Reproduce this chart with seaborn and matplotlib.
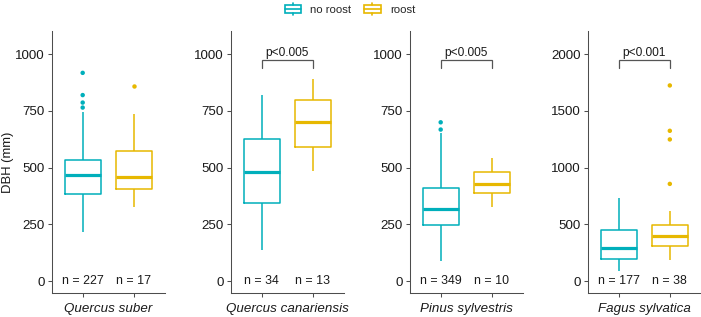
import matplotlib
matplotlib.use("Agg")
import matplotlib.pyplot as plt
from matplotlib.legend_handler import HandlerBase
from matplotlib.patches import Rectangle, Patch
from matplotlib.lines import Line2D
import seaborn as sns
import pandas as pd

# ---------------- data ----------------
species = ["Quercus suber", "Quercus canariensis", "Pinus sylvestris", "Fagus sylvatica"]
groups = ["no roost", "roost"]
# five-number box summaries: lower whisker, Q1, median, Q3, upper whisker
no_roost_box = [[215, 385, 468, 534, 746],
                [136, 345, 482, 626, 819],
                [89, 247, 320, 411, 652],
                [88, 193, 295, 447, 731]]
roost_box = [[326, 405, 461, 575, 738],
             [487, 591, 702, 800, 889],
             [326, 390, 427, 480, 542],
             [184, 313, 401, 494, 614]]
no_roost_outliers = [[918, 820, 787, 765], [], [700, 668], []]
roost_outliers = [[858], [], [], [1725, 1325, 1249, 857]]
n_no_roost = [227, 34, 349, 177]
n_roost = [17, 13, 10, 38]
p_labels = [None, "p<0.005", "p<0.005", "p<0.001"]
y_top_tick = [1000, 1000, 1000, 2000]
y_tick_step = [250, 250, 250, 500]
palette = {"no roost": "#00AFBB", "roost": "#E7B800"}

# ---------------- style ----------------
sns.set_theme(style="ticks")
plt.rcParams["font.family"] = ["Liberation Sans", "DejaVu Sans"]
axis_col = "#4d4d4d"

W, H = 701, 317
fig = plt.figure(figsize=(W / 100, H / 100), dpi=100)

lefts = [52, 231, 410, 588]
panel_w = 112.5
top_px, bot_px = 31, 293


class BoxHandler(HandlerBase):
    def create_artists(self, legend, orig_handle, xdescent, ydescent,
                       width, height, fontsize, trans):
        c = orig_handle.get_edgecolor()
        bw = width
        x0 = -xdescent
        bh = height * 0.68
        y0 = -ydescent + (height - bh) / 2
        rect = Rectangle((x0, y0), bw, bh, facecolor="none", edgecolor=c,
                         linewidth=1.2, transform=trans)
        mid = Line2D([x0, x0 + bw], [y0 + bh / 2] * 2, color=c, lw=1.2, transform=trans)
        xc = x0 + bw / 2
        wt = Line2D([xc, xc], [y0 + bh, -ydescent + height], color=c, lw=1.2, transform=trans)
        wb = Line2D([xc, xc], [y0, -ydescent], color=c, lw=1.2, transform=trans)
        return [rect, mid, wt, wb]


for i, sp in enumerate(species):
    ax = fig.add_axes([lefts[i] / W, 1 - bot_px / H, panel_w / W, (bot_px - top_px) / H])
    rows = []
    for g, box in zip(groups, [no_roost_box[i], roost_box[i]]):
        for v in box:
            rows.append({"group": g, "DBH": v})
    df = pd.DataFrame(rows)
    orow = []
    for g, outs in zip(groups, [no_roost_outliers[i], roost_outliers[i]]):
        for v in outs:
            orow.append({"group": g, "DBH": v})
    odf = pd.DataFrame(orow, columns=["group", "DBH"])

    sns.boxplot(data=df, x="group", y="DBH", hue="group", order=groups,
                hue_order=groups, palette=palette, fill=False, whis=(0, 100),
                width=0.7, showfliers=False, linewidth=1.1, legend=False, ax=ax,
                medianprops={"linewidth": 2.3},
                capprops={"linewidth": 0})
    if len(odf):
        sns.stripplot(data=odf, x="group", y="DBH", hue="group", order=groups,
                      hue_order=groups, palette=palette, jitter=False, size=3.2,
                      linewidth=0, legend=False, ax=ax)

    ymax = y_top_tick[i]
    lim_hi = ymax * 1.05
    ax.set_ylim(-0.05 * lim_hi, lim_hi * 1.05)
    ax.set_xlim(-0.6, 1.6)
    ax.set_yticks([k * y_tick_step[i] for k in range(5)])
    ax.set_xticks([0, 1])
    ax.set_xticklabels(["", ""])
    ax.tick_params(axis="both", length=3, width=0.75, color=axis_col,
                   labelsize=9.6, labelcolor="#1a1a1a", pad=2)
    for s in ["top", "right"]:
        ax.spines[s].set_visible(False)
    for s in ["left", "bottom"]:
        ax.spines[s].set_color(axis_col)
        ax.spines[s].set_linewidth(0.75)

    ax.set_xlabel(sp, fontsize=9.6, style="italic", color="#1a1a1a", va="center")
    ax.xaxis.set_label_coords(0.5, -16 / (bot_px - top_px))
    if i == 0:
        ax.set_ylabel("DBH (mm)", fontsize=9.4, color="#1a1a1a", va="center")
        ax.yaxis.set_label_coords((7.5 - 52) / panel_w, 0.5)
    else:
        ax.set_ylabel("")

    for pos, n in zip([0, 1], [n_no_roost[i], n_roost[i]]):
        ax.text(pos, 0, f"n = {n}", ha="center", va="center", fontsize=8.9, color="#1a1a1a")

    if p_labels[i]:
        yb = 0.975 * ymax
        yl = 0.94 * ymax
        ax.plot([0, 0, 1, 1], [yl, yb, yb, yl], color="#555555", lw=0.9, solid_joinstyle="miter")
        ax.text(0.5, yb + 0.005 * ymax, p_labels[i], ha="center", va="bottom",
                fontsize=8.6, color="#1a1a1a")

handles = [Patch(edgecolor=palette[g], facecolor="none") for g in groups]
fig.legend(handles, groups, loc="center", bbox_to_anchor=(350 / W, 1 - 9 / H), ncol=2,
           frameon=False, fontsize=8.2, handler_map={Patch: BoxHandler()},
           handlelength=1.45, handleheight=1.15, columnspacing=1.1, handletextpad=0.8)

fig.savefig("out.png", dpi=100)
